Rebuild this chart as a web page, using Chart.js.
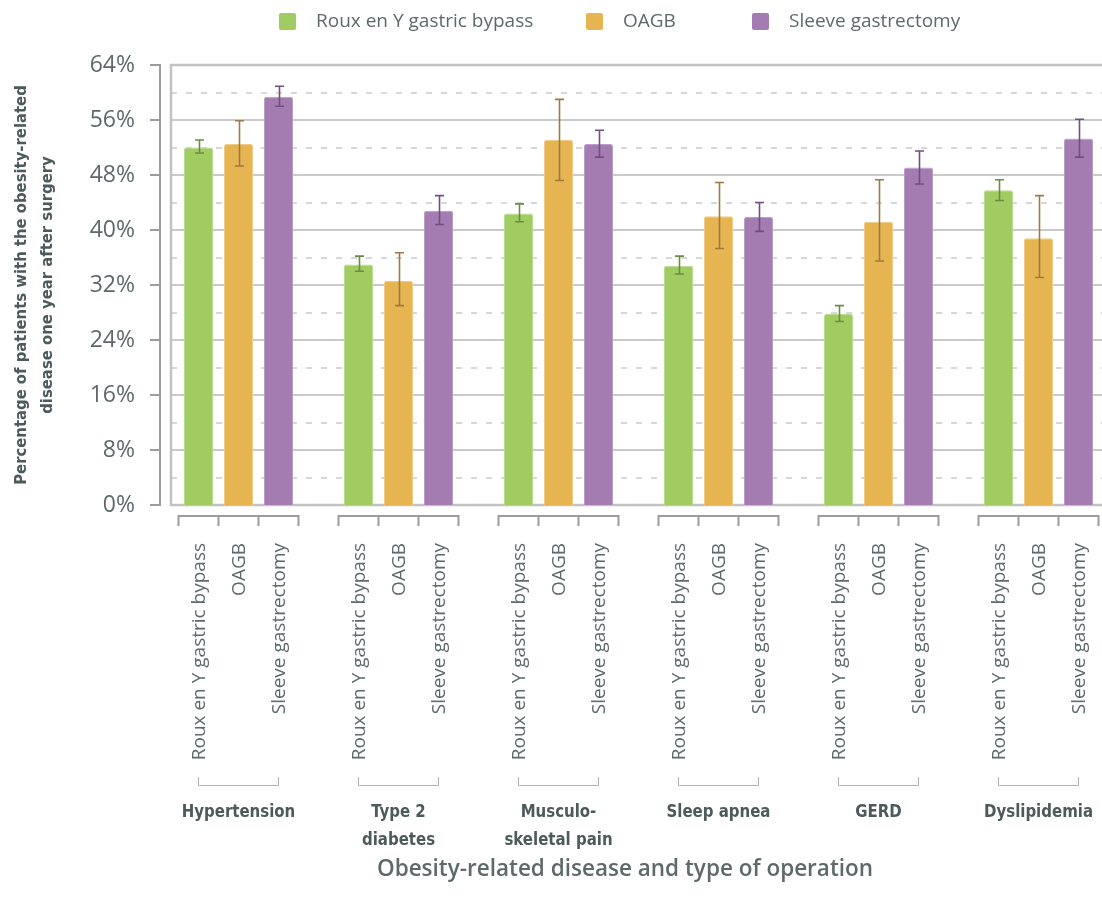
<!DOCTYPE html>
<html><head><meta charset="utf-8">
<script src="https://cdn.jsdelivr.net/npm/chart.js@4.4.1/dist/chart.umd.min.js"></script>
<style>
html,body{margin:0;padding:0;background:#fff;}
#wrap{width:1102px;height:912px;overflow:hidden;position:relative;}
canvas{display:block;}
</style></head><body>
<div id="wrap"><canvas id="c" width="1140" height="912"></canvas></div>
<script>
// ====== Data ======
const groups = ['Hypertension', ['Type 2','diabetes'], ['Musculo-','skeletal pain'], 'Sleep apnea', 'GERD', 'Dyslipidemia'];
const operations = ['Roux en Y gastric bypass', 'OAGB', 'Sleeve gastrectomy'];
const yTicks = [0, 8, 16, 24, 32, 40, 48, 56, 64];

const rygb      = [52.0, 35.0, 42.4, 34.8, 27.8, 45.8];
const rygbLow   = [51.2, 34.0, 41.2, 33.6, 26.7, 44.3];
const rygbHigh  = [53.1, 36.2, 43.8, 36.2, 29.0, 47.3];
const oagb      = [52.5, 32.6, 53.1, 42.0, 41.2, 38.8];
const oagbLow   = [49.3, 29.0, 47.2, 37.3, 35.5, 33.1];
const oagbHigh  = [55.9, 36.7, 59.0, 46.9, 47.3, 45.0];
const sleeve    = [59.4, 42.8, 52.5, 41.9, 49.1, 53.3];
const sleeveLow = [58.0, 40.8, 50.6, 39.8, 46.7, 50.6];
const sleeveHigh= [60.9, 45.0, 54.5, 44.0, 51.5, 56.1];

// ====== Styles ======
const fills  = ['#a0cc62', '#e6b552', '#a57cb2'];
const edges  = ['#b9db8c', '#efcb85', '#bb9cc6'];
const errCol = ['#6c8c42', '#9c7b3c', '#6f4f80'];
const txt = '#5e6a6a', txtBold = '#4c5a5a';
const boldFont = '"DejaVu Sans Condensed", "DejaVu Sans", sans-serif';
const errs = [[rygbLow, rygbHigh], [oagbLow, oagbHigh], [sleeveLow, sleeveHigh]];

const decor = {
  id:'decor',
  beforeDatasetsDraw(chart){
    const {ctx, chartArea:a, scales:{y}} = chart;
    const fl = a.left + 12.5, fr = chart.width;
    const top = y.getPixelForValue(64), bot = y.getPixelForValue(0);
    ctx.save();
    for(let v=4; v<64; v+=4){
      const py = Math.round(y.getPixelForValue(v));
      ctx.beginPath();
      ctx.strokeStyle = '#cacaca';
      if(v%8){ ctx.setLineDash([6,9]); ctx.lineWidth=1.5; } else { ctx.setLineDash([]); ctx.lineWidth=2; }
      ctx.moveTo(fl, py); ctx.lineTo(fr, py); ctx.stroke();
    }
    ctx.setLineDash([]);
    ctx.strokeStyle='#c2c2c2'; ctx.lineWidth=2.5;
    ctx.beginPath(); ctx.moveTo(fr, top); ctx.lineTo(fl, top); ctx.lineTo(fl, bot); ctx.lineTo(fr, bot); ctx.stroke();
    // y axis with ticks
    const ax = a.left + 1.5;
    ctx.strokeStyle='#9c9c9c'; ctx.lineWidth=2;
    ctx.beginPath(); ctx.moveTo(ax, top-1); ctx.lineTo(ax, bot+1);
    yTicks.forEach(v=>{ const py=Math.round(y.getPixelForValue(v)); ctx.moveTo(ax-10, py); ctx.lineTo(ax, py); });
    ctx.stroke();
    ctx.restore();
  },
  afterDatasetsDraw(chart){
    const {ctx, chartArea:a, scales:{y}} = chart;
    ctx.save();
    // error bars
    chart.data.datasets.forEach((ds,d)=>{
      chart.getDatasetMeta(d).data.forEach((bar,i)=>{
        const x = Math.round(bar.x)+0.5, y1 = y.getPixelForValue(errs[d][0][i]), y2 = y.getPixelForValue(errs[d][1][i]);
        ctx.strokeStyle = errCol[d]; ctx.lineWidth = 1.6;
        ctx.beginPath(); ctx.moveTo(x, y1); ctx.lineTo(x, y2);
        ctx.moveTo(x-4.5, y1); ctx.lineTo(x+4.5, y1); ctx.moveTo(x-4.5, y2); ctx.lineTo(x+4.5, y2);
        ctx.stroke();
      });
    });
    // x axis brackets, rotated operation labels, group brackets, group names
    const m0 = chart.getDatasetMeta(0).data, m1 = chart.getDatasetMeta(1).data, m2 = chart.getDatasetMeta(2).data;
    const by = a.bottom + 11;
    groups.forEach((g,i)=>{
      const xs = [m0[i].x, m1[i].x, m2[i].x], slot = xs[1]-xs[0];
      ctx.strokeStyle='#9c9c9c'; ctx.lineWidth=2;
      ctx.beginPath();
      ctx.moveTo(xs[0]-slot/2, by); ctx.lineTo(xs[2]+slot/2, by);
      [xs[0]-slot/2, xs[0]+slot/2, xs[1]+slot/2, xs[2]+slot/2].forEach(tx=>{ ctx.moveTo(tx, by-1); ctx.lineTo(tx, by+10); });
      ctx.stroke();
      ctx.fillStyle = txt; ctx.font = '19px "Open Sans"'; ctx.textAlign='right'; ctx.textBaseline='middle';
      xs.forEach((x,k)=>{ ctx.save(); ctx.translate(x+1, a.bottom+38); ctx.rotate(-Math.PI/2); ctx.fillText(operations[k],0,0); ctx.restore(); });
      ctx.strokeStyle='#b4b4b4'; ctx.lineWidth=1;
      ctx.beginPath(); ctx.moveTo(xs[0], 777); ctx.lineTo(xs[0], 785.5); ctx.lineTo(xs[2], 785.5); ctx.lineTo(xs[2], 777); ctx.stroke();
      // condensed bold group names
      ctx.fillStyle = txtBold; ctx.font = 'bold 18.5px ' + boldFont; ctx.textAlign='center';
      [].concat(g).forEach((line,l)=>{ ctx.save(); ctx.translate(xs[1], 812 + l*28); ctx.scale(0.9,1); ctx.fillText(line, 0, 0); ctx.restore(); });
    });
    // x title
    ctx.fillStyle = txt; ctx.font = '600 22.5px "Open Sans"'; ctx.textAlign='center';
    ctx.fillText('Obesity-related disease and type of operation', 625, 870);
    // legend
    const lx = [279, 586, 752];
    ctx.font = '19px "Open Sans"'; ctx.textAlign='left';
    operations.forEach((op,k)=>{
      ctx.fillStyle = fills[k]; ctx.beginPath(); ctx.roundRect(lx[k], 13, 17, 17, 2); ctx.fill();
      ctx.fillStyle = txt; ctx.fillText(op, lx[k]+37, 22);
    });
    ctx.restore();
  }
};

new Chart(document.getElementById('c'), {
  type:'bar',
  data:{
    labels: groups,
    datasets:[
      {label: operations[0], data: rygb,   backgroundColor: fills[0], borderColor: edges[0], borderWidth: 1, borderRadius: 2},
      {label: operations[1], data: oagb,   backgroundColor: fills[1], borderColor: edges[1], borderWidth: 1, borderRadius: 2},
      {label: operations[2], data: sleeve, backgroundColor: fills[2], borderColor: edges[2], borderWidth: 1, borderRadius: 2}
    ]
  },
  options:{
    responsive:false, animation:false,
    layout:{padding:{left:0, right:21.5, top:65, bottom:407}},
    datasets:{bar:{categoryPercentage:0.75, barPercentage:0.725}},
    plugins:{legend:{display:false}, tooltip:{enabled:false}},
    scales:{
      x:{display:false, offset:true},
      y:{
        min:0, max:64,
        afterFit: s=>{ s.width = 158.5; },
        grid:{display:false, drawTicks:false}, border:{display:false},
        ticks:{stepSize:8, padding:23.5, color:txt, font:{family:'Open Sans', size:23}, callback: v=> v+'%'},
        title:{display:true, text:['Percentage of patients with the obesity-related','disease one year after surgery'],
          color:txtBold, font:{family:boldFont, size:16.5, weight:'bold', lineHeight:26/16.5}, padding:{top:9, bottom:0}}
      }
    }
  },
  plugins:[decor]
});
</script>
</body></html>
